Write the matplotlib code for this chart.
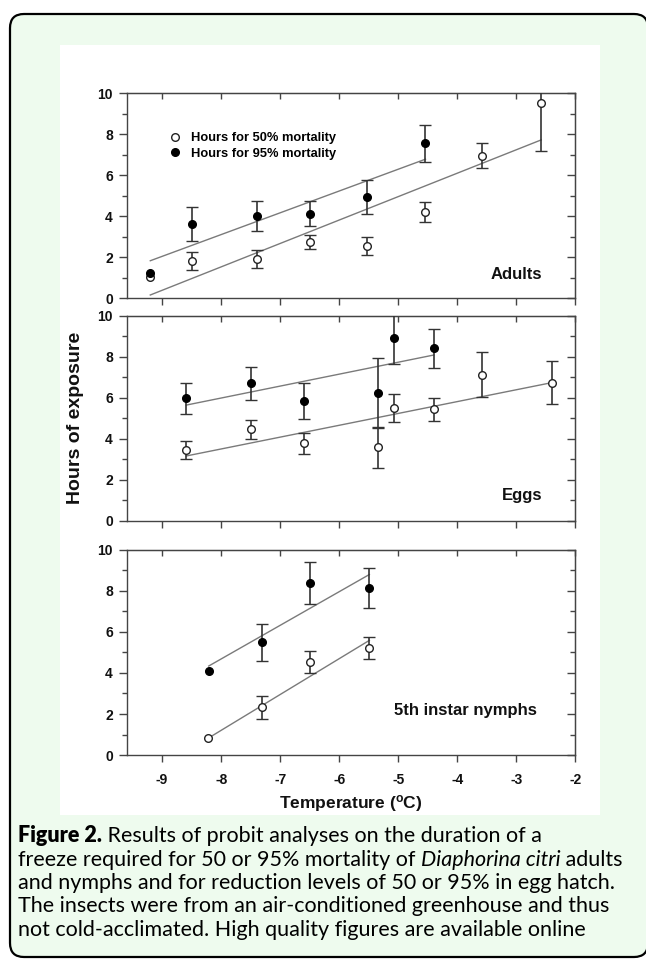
import numpy as np
import matplotlib
matplotlib.use('Agg')
import matplotlib.pyplot as plt
from matplotlib.patches import FancyBboxPatch, Rectangle
from matplotlib.lines import Line2D
from matplotlib.ticker import MultipleLocator
from matplotlib.transforms import IdentityTransform

plt.rcParams['font.family'] = ['Liberation Sans', 'DejaVu Sans']
plt.rcParams['axes.unicode_minus'] = False
plt.rcParams['mathtext.fontset'] = 'custom'
plt.rcParams['mathtext.rm'] = 'Liberation Sans:bold'

nan = np.nan

# Adults
adult_x50 = [-9.2, -8.5, -7.4, -6.5, -5.53, -4.54, -3.58, -2.58]
adult_y50 = [1.02, 1.83, 1.92, 2.73, 2.55, 4.22, 6.94, 9.54]
adult_e50 = [nan, 0.43, 0.45, 0.35, 0.46, 0.49, 0.61, 2.34]
adult_x95 = [-9.2, -8.5, -7.4, -6.5, -5.53, -4.54]
adult_y95 = [1.25, 3.62, 4.01, 4.13, 4.94, 7.56]
adult_e95 = [nan, 0.82, 0.75, 0.59, 0.81, 0.90]
adult_fit50 = ([-9.2, -2.58], [0.16, 7.72])
adult_fit95 = ([-9.2, -4.54], [1.83, 6.78])

# Eggs
egg_x50 = [-8.59, -7.49, -6.59, -5.35, -5.08, -4.39, -3.59, -2.39]
egg_y50 = [3.46, 4.47, 3.78, 3.59, 5.52, 5.44, 7.13, 6.75]
egg_e50 = [0.44, 0.45, 0.50, 1.0, 0.69, 0.55, 1.11, 1.03]
egg_x95 = [-8.59, -7.49, -6.59, -5.35, -5.08, -4.39]
egg_y95 = [5.98, 6.71, 5.86, 6.25, 8.90, 8.41]
egg_e95 = [0.75, 0.80, 0.87, 1.70, 1.27, 0.96]
egg_fit50 = ([-8.59, -2.39], [3.17, 6.75])
egg_fit95 = ([-8.59, -4.40], [5.65, 8.09])

# 5th instar nymphs
nymph_x50 = [-8.22, -7.30, -6.50, -5.49]
nymph_y50 = [0.81, 2.32, 4.54, 5.22]
nymph_e50 = [nan, 0.56, 0.52, 0.54]
nymph_x95 = [-8.21, -7.30, -6.50, -5.49]
nymph_y95 = [4.10, 5.49, 8.38, 8.15]
nymph_e95 = [nan, 0.92, 1.01, 0.99]
nymph_fit50 = ([-8.22, -5.49], [0.82, 5.59])
nymph_fit95 = ([-8.21, -5.49], [4.34, 8.80])

panel_names = ['Adults', 'Eggs', '5th instar nymphs']
legend_labels = ['Hours for 50% mortality', 'Hours for 95% mortality']

caption = [
    [('Figure 2.', 'bold'), (' Results of probit analyses on the duration of a', 'normal')],
    [('freeze required for 50 or 95% mortality of ', 'normal'), ('Diaphorina citri', 'italic'), (' adults', 'normal')],
    [('and nymphs and for reduction levels of 50 or 95% in egg hatch.', 'normal')],
    [('The insects were from an air-conditioned greenhouse and thus', 'normal')],
    [('not cold-acclimated. High quality figures are available online', 'normal')],
]

W, H = 646, 960
fig = plt.figure(figsize=(W / 100, H / 100), dpi=100)

# green rounded panel and white figure area behind the plots
fig.add_artist(FancyBboxPatch((10, 3), 638, 943, boxstyle='round,pad=0,rounding_size=14',
                              transform=IdentityTransform(), facecolor='#eefbee',
                              edgecolor='black', linewidth=1.6, zorder=-10))
fig.add_artist(Rectangle((60, 145), 540, 770, transform=IdentityTransform(),
                         facecolor='white', edgecolor='none', zorder=-9))

spine_c = '#444444'
line_c = '#7a7a7a'
err_c = '#333333'


def panel(ax, x50, y50, e50, x95, y95, e95, fit50, fit95, name, label_pos, show_x):
    ax.set_facecolor('none')
    ax.plot(fit50[0], fit50[1], color=line_c, lw=1, zorder=2)
    ax.plot(fit95[0], fit95[1], color=line_c, lw=1, zorder=2)
    ax.errorbar(x50, y50, yerr=e50, fmt='o', ms=5.5, mfc='white', mec='#222222', mew=1,
                ecolor=err_c, elinewidth=1.2, capsize=4, capthick=1.2, zorder=3)
    ax.errorbar(x95, y95, yerr=e95, fmt='o', ms=5.5, mfc='black', mec='black', mew=1,
                ecolor=err_c, elinewidth=1.2, capsize=4, capthick=1.2, zorder=3)
    ax.set_xlim(-9.6, -2)
    ax.set_ylim(0, 10)
    ax.xaxis.set_major_locator(MultipleLocator(1))
    ax.yaxis.set_major_locator(MultipleLocator(2))
    ax.yaxis.set_minor_locator(MultipleLocator(1))
    for s in ax.spines.values():
        s.set_color(spine_c)
        s.set_linewidth(1)
    ax.tick_params(axis='y', which='major', direction='out', length=6, width=1, color=spine_c,
                   labelsize=10, pad=4, right=False)
    ax.tick_params(axis='y', which='minor', direction='out', length=3.5, width=1,
                   color=spine_c, right=False)
    ax.tick_params(axis='x', which='major', direction='out', length=5, width=1, color=spine_c,
                   labelsize=10, pad=8, top=False, labelbottom=show_x)
    for lab in ax.get_xticklabels() + ax.get_yticklabels():
        lab.set_fontweight('bold')
        lab.set_color('#111111')

    sy = ax.secondary_yaxis('right')
    sy.yaxis.set_major_locator(MultipleLocator(2))
    sy.yaxis.set_minor_locator(MultipleLocator(1))
    sy.tick_params(which='major', direction='in', length=6, width=1, color=spine_c, labelright=False)
    sy.tick_params(which='minor', direction='in', length=3.5, width=1, color=spine_c)
    sy.spines['right'].set_color(spine_c)

    sx = ax.secondary_xaxis('top')
    sx.xaxis.set_major_locator(MultipleLocator(1))
    sx.tick_params(direction='in', length=4, width=1, color=spine_c, labeltop=False)
    sx.spines['top'].set_color(spine_c)

    ax.text(label_pos[0], label_pos[1], name, transform=ax.transAxes, ha='right', va='center',
            fontsize=12, fontweight='bold', color='#111111')


left, width, height = 0.1961, 0.6947, 0.2137
bottoms = [0.6893, 0.4573, 0.2135]
axs = [fig.add_axes([left, b, width, height]) for b in bottoms]

panel(axs[0], adult_x50, adult_y50, adult_e50, adult_x95, adult_y95, adult_e95,
      adult_fit50, adult_fit95, panel_names[0], (0.926, 0.114), False)
panel(axs[1], egg_x50, egg_y50, egg_e50, egg_x95, egg_y95, egg_e95,
      egg_fit50, egg_fit95, panel_names[1], (0.926, 0.122), False)
panel(axs[2], nymph_x50, nymph_y50, nymph_e50, nymph_x95, nymph_y95, nymph_e95,
      nymph_fit50, nymph_fit95, panel_names[2], (0.915, 0.215), True)

handles = [Line2D([], [], ls='none', marker='o', ms=5.5, mfc='white', mec='#222222'),
           Line2D([], [], ls='none', marker='o', ms=5.5, mfc='black', mec='black')]
axs[0].legend(handles, legend_labels, loc='upper left', bbox_to_anchor=(0.079, 0.84),
              frameon=False, borderpad=0, handlelength=1, handletextpad=0.75,
              labelspacing=0.25, prop={'size': 9.3, 'weight': 'bold'})

fig.text(351 / W, 1 - 803 / H, 'Temperature ($\\mathrm{^o}$C)', ha='center', va='center',
         fontsize=12.5, fontweight='bold', color='#111111')
fig.text(75 / W, 1 - 418 / H, 'Hours of exposure', rotation=90, ha='center', va='center',
         fontsize=14, fontweight='bold', color='#111111')

# caption, written piece by piece so that the italic species name fits in the line
renderer = fig.canvas.get_renderer()
baselines = [842, 865.5, 889, 912.5, 936]
for pieces, yb in zip(caption, baselines):
    xp = 18
    for txt, style in pieces:
        t = fig.text(xp / W, 1 - yb / H, txt, ha='left', va='baseline', fontsize=15.5,
                     family='Lato', color='black',
                     fontweight='heavy' if style == 'bold' else 'normal',
                     style='italic' if style == 'italic' else 'normal')
        xp += t.get_window_extent(renderer).width

fig.savefig('out.png', dpi=100)
